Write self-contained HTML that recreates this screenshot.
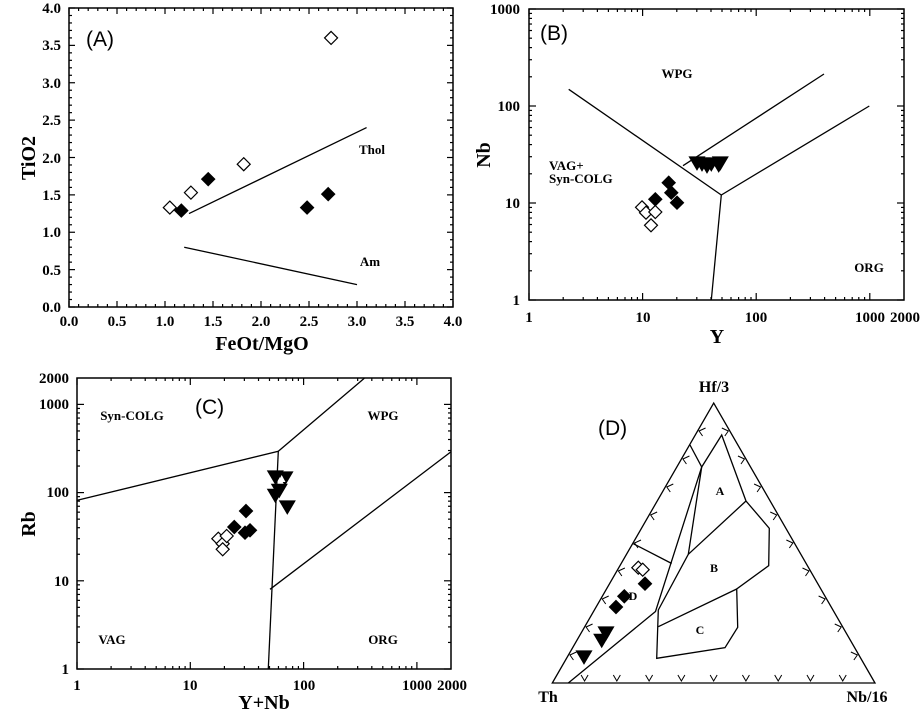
<!DOCTYPE html>
<html><head><meta charset="utf-8"><style>
html,body{margin:0;padding:0;background:#fff;}
svg{display:block;}
.t{font-family:"Liberation Serif",serif;font-weight:bold;fill:#000;}
.p{font-family:"Liberation Sans",sans-serif;fill:#000;}
</style></head><body>
<svg id="s" width="924" height="715" viewBox="0 0 924 715" xmlns="http://www.w3.org/2000/svg">
<g id="g" stroke="#000" fill="none" stroke-width="1.2"></g>
<!-- Panel A text -->
<g class="t" font-size="15" text-anchor="end">
<text x="61" y="13">4.0</text><text x="61" y="50">3.5</text><text x="61" y="88">3.0</text><text x="61" y="125">2.5</text><text x="61" y="163">2.0</text><text x="61" y="200">1.5</text><text x="61" y="237">1.0</text><text x="61" y="275">0.5</text><text x="61" y="312">0.0</text>
</g>
<g class="t" font-size="15" text-anchor="middle">
<text x="69" y="326">0.0</text><text x="117" y="326">0.5</text><text x="165" y="326">1.0</text><text x="213" y="326">1.5</text><text x="261" y="326">2.0</text><text x="309" y="326">2.5</text><text x="357" y="326">3.0</text><text x="405" y="326">3.5</text><text x="453" y="326">4.0</text>
<text x="262" y="350" font-size="20">FeOt/MgO</text>
<text transform="translate(35,158) rotate(-90)" font-size="20">TiO2</text>
<text x="372" y="154" font-size="13">Thol</text><text x="370" y="266" font-size="13">Am</text>
</g>
<text class="p" x="86" y="46" font-size="21">(A)</text>
<!-- Panel B text -->
<g class="t" font-size="15" text-anchor="end">
<text x="520" y="14">1000</text><text x="520" y="111">100</text><text x="520" y="208">10</text><text x="520" y="305">1</text>
</g>
<g class="t" font-size="15" text-anchor="middle">
<text x="529" y="322">1</text><text x="643" y="322">10</text><text x="756" y="322">100</text><text x="870" y="322">1000</text><text x="905" y="322">2000</text>
<text x="717" y="343" font-size="20">Y</text>
<text transform="translate(490,155) rotate(-90)" font-size="20">Nb</text>
<text x="677" y="78" font-size="13">WPG</text><text x="869" y="272" font-size="13">ORG</text>
</g>
<g class="t" font-size="13"><text x="549" y="170">VAG+</text><text x="549" y="183">Syn-COLG</text></g>
<text class="p" x="540" y="40" font-size="21">(B)</text>
<!-- Panel C text -->
<g class="t" font-size="15" text-anchor="end">
<text x="69" y="383">2000</text><text x="69" y="409">1000</text><text x="69" y="497">100</text><text x="69" y="586">10</text><text x="69" y="674">1</text>
</g>
<g class="t" font-size="15" text-anchor="middle">
<text x="77" y="690">1</text><text x="190" y="690">10</text><text x="304" y="690">100</text><text x="417" y="690">1000</text><text x="452" y="690">2000</text>
<text x="264" y="709" font-size="20">Y+Nb</text>
<text transform="translate(35,524) rotate(-90)" font-size="20">Rb</text>
<text x="132" y="420" font-size="13">Syn-COLG</text><text x="383" y="420" font-size="13">WPG</text>
<text x="112" y="644" font-size="13">VAG</text><text x="383" y="644" font-size="13">ORG</text>
</g>
<text class="p" x="195" y="414" font-size="21">(C)</text>
<!-- Panel D text -->
<g class="t" text-anchor="middle">
<text x="714" y="392" font-size="16">Hf/3</text><text x="548" y="702" font-size="16">Th</text><text x="867" y="702" font-size="16">Nb/16</text>
<text x="720" y="495" font-size="12">A</text><text x="714" y="572" font-size="12">B</text><text x="700" y="634" font-size="12">C</text><text x="633" y="600" font-size="12">D</text>
</g>
<text class="p" x="598" y="435" font-size="21">(D)</text>
</svg>
<script>
var g=document.getElementById('g');var NS='http://www.w3.org/2000/svg';
function el(n,a){var e=document.createElementNS(NS,n);for(var k in a)e.setAttribute(k,a[k]);g.appendChild(e);return e;}
function L(x1,y1,x2,y2,w){el('line',{x1:x1,y1:y1,x2:x2,y2:y2,'stroke-width':w||1.2});}
function P(pts,w){el('polyline',{points:pts.map(function(p){return p.join(',')}).join(' '),'stroke-width':w||1.3});}
function dia(x,y,f){var r=6.5;el('polygon',{points:[x,y-r,x+r,y,x,y+r,x-r,y].join(','),fill:f?'#000':'#fff','stroke-width':1.2});}
function tri(x,y){var r=7.5;el('polygon',{points:[x-r,y-r*0.8,x+r,y-r*0.8,x,y+r*0.9].join(','),fill:'#000',stroke:'#000'});}
// Panel A
var ax0=69,ax1=453,ay0=307,ay1=8;
el('rect',{x:ax0,y:ay1,width:ax1-ax0,height:ay0-ay1,'stroke-width':1.5});
for(var i=0;i<=40;i++){var x=ax0+i*9.6,len=i%5==0?6:3;L(x,ay0,x,ay0-len);L(x,ay1,x,ay1+len);
 var y=ay0-i*7.475;L(ax0,y,ax0+len,y);L(ax1,y,ax1-len,y);}
function A(x,y){return [ax0+96*x,ay0-74.75*y];}
P([A(1.25,1.25),A(3.1,2.4)]);P([A(1.2,0.8),A(3.0,0.3)]);
[[1.05,1.33],[1.27,1.53],[1.82,1.91],[2.73,3.6]].forEach(function(p){var q=A(p[0],p[1]);dia(q[0],q[1],0);});
[[1.17,1.29],[1.45,1.71],[2.48,1.33],[2.70,1.51]].forEach(function(p){var q=A(p[0],p[1]);dia(q[0],q[1],1);});
// log frames
function logFrame(x0,x1,y0,y1,xd,yd,xmax,ymax){
 el('rect',{x:x0,y:y1,width:x1-x0,height:y0-y1,'stroke-width':1.5});
 for(var d=0;d<4;d++)for(var m=1;m<10;m++){var v=Math.log10(m)+d;var len=m==1?7:3;
  if(v<=xmax+1e-9){var x=x0+xd*v;L(x,y0,x,y0-len);L(x,y1,x,y1+len);}
  if(v<=ymax+1e-9){var y=y0-yd*v;L(x0,y,x0+len,y);L(x1,y,x1-len,y);}}
}
logFrame(529,904,300,9,113.6,97,3.301,3);
P([[568.7,89.3],[721.3,195],[869.3,106]]);P([[683,165.7],[824,74]]);P([[721.3,195],[711.3,300]]);
[[642,207.3],[646,212.7],[655.3,212],[651,225.3]].forEach(function(p){dia(p[0],p[1],0);});
[[655.3,199.3],[668.7,182.7],[671.3,192.7],[677,202.7]].forEach(function(p){dia(p[0],p[1],1);});
[[697,163],[702,164],[707,166],[711.3,164],[718.7,165],[720.3,163]].forEach(function(p){tri(p[0],p[1]);});
logFrame(77,451,669,378,113.3,88.2,3.301,3.301);
P([[77.3,500.3],[278.3,451.3],[364.3,378.3]]);P([[278.3,451.3],[268.3,668.7]]);P([[270,589.3],[450.7,452]]);
[[218.3,538.7],[222.7,543.7],[226.7,536],[222.7,549.3]].forEach(function(p){dia(p[0],p[1],0);});
[[234.3,527],[246,511],[245,532.7],[250,530.3]].forEach(function(p){dia(p[0],p[1],1);});
[[275.3,477],[285,478],[279.3,490.3],[275.3,495.3],[287.3,507]].forEach(function(p){tri(p[0],p[1]);});
el('polygon',{points:'281.7,475 285.5,482 277.9,482',fill:'#fff',stroke:'none'});
// Panel D
var T=[552.3,683],N=[875,683],H=[713.7,403];
el('polygon',{points:[T,N,H].map(function(p){return p.join(',')}).join(' '),'stroke-width':1.3});
function lerp(a,b,t){return [a[0]+(b[0]-a[0])*t,a[1]+(b[1]-a[1])*t];}
for(var i=1;i<10;i++){
 var b=lerp(T,N,i/10);P([[b[0]-3.5,b[1]-8],[b[0],b[1]-2],[b[0]+3.5,b[1]-8]],1);
 var l=lerp(T,H,i/10);P([[l[0]+8,l[1]-3],[l[0]+1.5,l[1]],[l[0]+5,l[1]+5]],1);
 var r=lerp(N,H,i/10);P([[r[0]-8,r[1]-3],[r[0]-1.5,r[1]],[r[0]-5,r[1]+5]],1);
}
P([[568.3,683],[655.5,611.5],[701.7,467],[690,445]]);
P([[633.3,543.7],[671.7,563.5]]);
P([[701.7,467],[721.7,435],[746,501],[769.3,528.3],[768.7,565.7],[736.7,589],[737.7,627.3],[725,647.7],[656.7,658.3],[658.3,610],[688.3,554.3],[701.7,467]]);
P([[688.3,554.3],[746,501]]);P([[658.3,626.7],[736.7,589]]);
dia(638.3,567.7,0);dia(642.7,569.7,0);
dia(645,583.7,1);dia(624.3,596.3,1);dia(616,607,1);
tri(606,633);tri(601.7,640.3);tri(584,657);
</script>
</body></html>
